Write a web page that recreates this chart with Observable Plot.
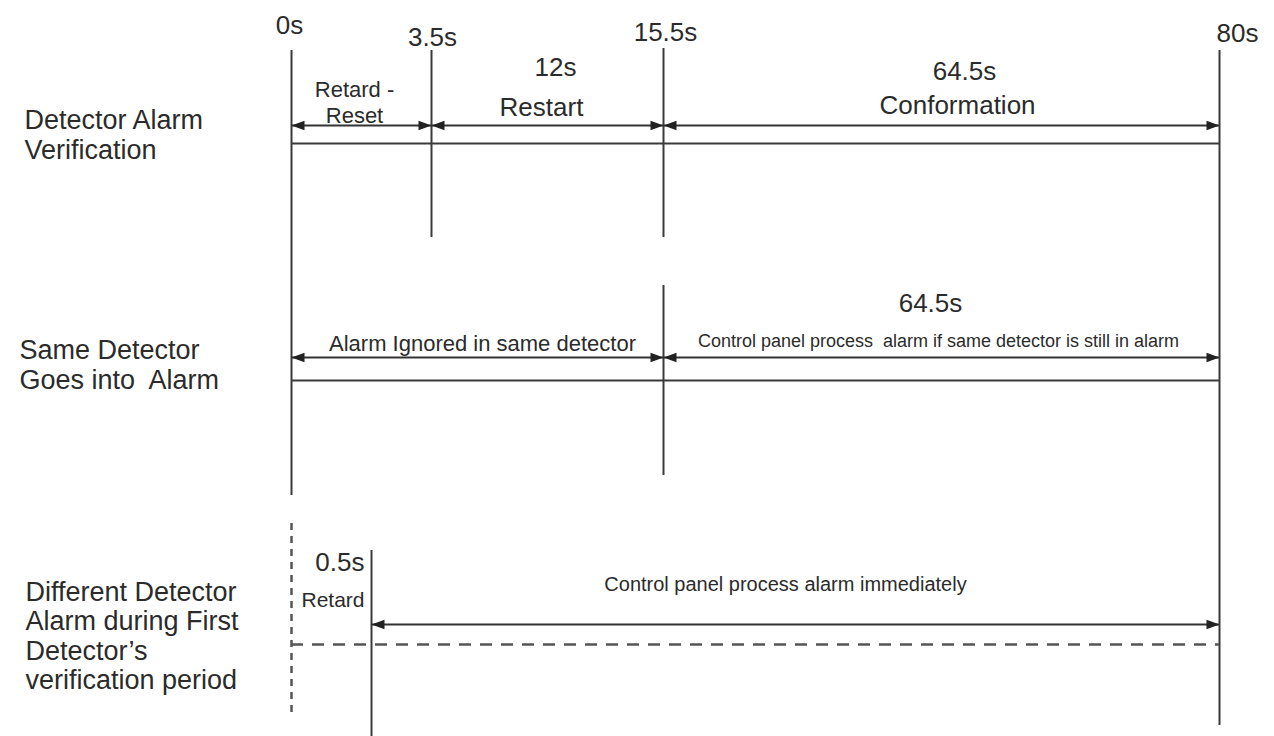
<!DOCTYPE html>
<html>
<head>
<meta charset="utf-8">
<script src="https://cdn.jsdelivr.net/npm/d3@7"></script>
<script src="https://cdn.jsdelivr.net/npm/@observablehq/plot@0.6"></script>
<style>
  html, body { margin: 0; padding: 0; background: #ffffff; }
  #chart svg { display: block; }
</style>
</head>
<body>
<div id="chart"></div>
<script>
// ---------------- DATA ----------------
// time markers (seconds) along the top
const markerTimes = [0, 3.5, 15.5, 80];
const markerLabels = ["0s", "3.5s", "15.5s", "80s"];
// short retard of a different detector
const retardTime = 0.5;
const retardLabel = "0.5s";
const retardName = "Retard";

// row titles
const rowTitles = [
  "Detector Alarm\nVerification",
  "Same Detector\nGoes into  Alarm",
  "Different Detector\nAlarm during First\nDetector\u2019s\nverification period"
];

// row 1: detector alarm verification phases
const verifyStarts = [0, 3.5, 15.5];
const verifyEnds = [3.5, 15.5, 80];
const verifyDurations = ["", "12s", "64.5s"];
const verifyNames = ["Retard -\nReset", "Restart", "Conformation"];

// row 2: same detector goes into alarm
const sameStarts = [0, 15.5];
const sameEnds = [15.5, 80];
const sameDurations = ["", "64.5s"];
const sameNames = ["Alarm Ignored in same detector", "Control panel process  alarm if same detector is still in alarm"];

// row 3: different detector alarm
const diffStarts = [0.5];
const diffEnds = [80];
const diffDurations = [""];
const diffNames = ["Control panel process alarm immediately"];

// vertical guide lines: time, vertical extent (diagram units, top = 0)
const guideTimes  = [0,   3.5, 15.5, 80,  15.5, 0,   0.5];
const guideTop    = [50,  50,  48,   50,  285,  523, 550];
const guideBottom = [495, 237, 237,  725, 475,  717, 736];
const guideDashed = [false, false, false, false, false, true, false];

// ---------------- LAYOUT ----------------
const W = 1274, H = 736;
const xBreaks = [0, 0.5, 3.5, 15.5, 80];          // schematic (non-proportional) time axis
const xBreakPos = [291, 371, 431, 663, 1219];
const rowArrowY = [125, 357, 624];
const rowLineY = [143, 380, 644];
const rowTitleY = [134, 364, 635];
const rowTitleLeft = [24, 19, 25];
const markerLabelY = [25, 37, 32, 33];
const markerLabelDx = [-2, 1, 2, 18];
// per phase (row1 x3, row2 x2, row3 x1)
const nameDx = [-7, -6, 16, 5, -3, -10];
const nameY = [101, 106, 103.5, 342, 340, 583];
const nameSize = [22, 26, 26, 22, 18, 20];
const durDx = [0, 8, 23, 0, -11, 0];
const durY = [0, 67, 71, 0, 303, 0];

const INK = "#2b2b2b";
const LINE = "#3a3a3a";
const FONT = "'Liberation Sans', Arial, Helvetica, sans-serif";

const xs = Plot.scale({x: {type: "linear", domain: xBreaks, range: xBreakPos}});
const shiftX = (t, dx) => xs.invert(xs.apply(t) + dx);
const midX = (a, b, dx) => xs.invert((xs.apply(a) + xs.apply(b)) / 2 + dx);

// build tables
const phases = [];
const addRow = (row, starts, ends, durs, names) =>
  starts.forEach((s, i) => phases.push({row, start: s, end: ends[i], duration: durs[i], name: names[i]}));
addRow(0, verifyStarts, verifyEnds, verifyDurations, verifyNames);
addRow(1, sameStarts, sameEnds, sameDurations, sameNames);
addRow(2, diffStarts, diffEnds, diffDurations, diffNames);
phases.forEach((p, i) => Object.assign(p, {i}));

const guides = guideTimes.map((t, i) => ({t, top: guideTop[i], bottom: guideBottom[i], dashed: guideDashed[i]}));
const baselines = rowLineY.map((y, i) => ({row: i, start: 0, end: 80, dashed: i === 2}));
const markers = markerTimes.map((t, i) => ({t, label: markerLabels[i], i}));
const titles = rowTitles.map((text, i) => ({text, i}));

// filled arrow heads with the tip at the anchor point
const HL = 13, HW = 4.8;
const headRight = {draw(ctx) { ctx.moveTo(0, 0); ctx.lineTo(-HL, -HW); ctx.lineTo(-HL, HW); ctx.closePath(); }};
const headLeft  = {draw(ctx) { ctx.moveTo(0, 0); ctx.lineTo(HL, -HW); ctx.lineTo(HL, HW); ctx.closePath(); }};

const chart = Plot.plot({
  width: W,
  height: H,
  margin: 0,
  x: {type: "linear", domain: xBreaks, range: xBreakPos, axis: null},
  y: {type: "linear", domain: [0, H], range: [0, H], axis: null},
  style: {fontFamily: FONT, background: "#ffffff", color: INK},
  marks: [
    // vertical guides
    Plot.ruleX(guides.filter(d => !d.dashed), {x: "t", y1: "top", y2: "bottom", stroke: LINE, strokeWidth: 2}),
    Plot.ruleX(guides.filter(d => d.dashed), {x: "t", y1: "top", y2: "bottom", stroke: "#555", strokeWidth: 2.5, strokeDasharray: "7,6"}),
    // row baselines
    Plot.ruleY(baselines.filter(d => !d.dashed), {y: d => rowLineY[d.row], x1: "start", x2: "end", stroke: LINE, strokeWidth: 2}),
    Plot.ruleY(baselines.filter(d => d.dashed), {y: d => rowLineY[d.row], x1: "start", x2: "end", stroke: "#555", strokeWidth: 2.5, strokeDasharray: "12,9"}),
    // arrow shafts and heads
    Plot.ruleY(phases, {y: d => rowArrowY[d.row], x1: "start", x2: "end", stroke: "#333", strokeWidth: 2}),
    Plot.dot(phases, {x: "start", y: d => rowArrowY[d.row], symbol: headLeft, fill: "#222", stroke: "none"}),
    Plot.dot(phases, {x: "end", y: d => rowArrowY[d.row], symbol: headRight, fill: "#222", stroke: "none"}),
    // time markers
    Plot.text(markers, {x: d => shiftX(d.t, markerLabelDx[d.i]), y: d => markerLabelY[d.i], text: "label",
      fontSize: 26, fill: INK, textAnchor: "middle", lineAnchor: "middle"}),
    Plot.text([retardLabel], {x: () => shiftX(retardTime, -7), y: () => 562, text: d => d,
      fontSize: 26, fill: INK, textAnchor: "end", lineAnchor: "middle"}),
    Plot.text([retardName], {x: () => shiftX(retardTime, -7), y: () => 600, text: d => d,
      fontSize: 21, fill: INK, textAnchor: "end", lineAnchor: "middle"}),
    // phase names and durations
    Plot.text(phases, {x: d => midX(d.start, d.end, nameDx[d.i]), y: d => nameY[d.i], text: "name",
      fontSize: d => nameSize[d.i], lineHeight: 1.18, fill: INK, textAnchor: "middle", lineAnchor: "middle"}),
    Plot.text(phases.filter(d => d.duration), {x: d => midX(d.start, d.end, durDx[d.i]), y: d => durY[d.i], text: "duration",
      fontSize: 26, fill: INK, textAnchor: "middle", lineAnchor: "middle"}),
    // row titles (left of the time axis, placed through the same x scale)
    Plot.text(titles, {x: d => xs.invert(rowTitleLeft[d.i]), y: d => rowTitleY[d.i], text: "text",
      fontSize: 27, lineHeight: 1.09, fill: INK, textAnchor: "start", lineAnchor: "middle"})
  ]
});

document.getElementById("chart").appendChild(chart);
</script>
</body>
</html>
